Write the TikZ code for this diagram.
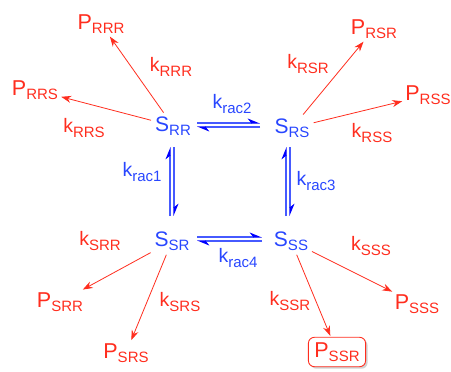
\documentclass[tikz,border=0pt]{standalone}
\usepackage{fontspec}
\setmainfont{Liberation Sans}
\usetikzlibrary{arrows.meta,shadows}
\definecolor{rd}{RGB}{255,45,30}
\definecolor{bl}{RGB}{40,70,255}
\definecolor{blA}{RGB}{0,0,255}
\definecolor{blL}{RGB}{70,90,255}
\newcommand\lab[2]{#1\raisebox{-4.5pt}{\fontsize{15}{17}\selectfont #2}}
\tikzset{
  sp/.style={text=bl,font=\fontsize{21}{24}\selectfont,inner sep=2pt},
  pr/.style={text=rd,font=\fontsize{21.5}{24}\selectfont,inner sep=2pt},
  kr/.style={text=rd,font=\fontsize{19.5}{22}\selectfont,inner sep=1pt},
  kb/.style={text=bl,font=\fontsize{19.5}{22}\selectfont,inner sep=1pt},
  ra/.style={draw=rd,line width=0.8pt,-{Stealth[length=10pt,width=7pt]},shorten <=2pt,shorten >=1pt},
  eq/.style={draw=blL,line width=1.1pt},
  hp/.style={-{Stealth[harpoon,length=11pt,width=9pt,blA]}},
}
\begin{document}
\begin{tikzpicture}[x=1pt,y=-1pt]
\useasboundingbox (0,0) rectangle (451,372);
\node[sp] (srr) at (173,126) {\lab{S}{RR}};
\node[sp] (srs) at (292,128) {\lab{S}{RS}};
\node[sp] (ssr) at (172,241) {\lab{S}{SR}};
\node[sp] (sss) at (291,241) {\lab{S}{SS}};
\node[kb] (k2) at (232,104) {\lab{k}{rac2}};
\node[kb] (k1) at (142,172) {\lab{k}{rac1}};
\node[kb] (k3) at (316,181) {\lab{k}{rac3}};
\node[kb] (k4) at (238,258) {\lab{k}{rac4}};
% products
\node[pr] (prrr) at (101,24) {\lab{P}{RRR}};
\node[pr] (prrs) at (35,90) {\lab{P}{RRS}};
\node[pr] (prsr) at (374,29) {\lab{P}{RSR}};
\node[pr] (prss) at (428,95) {\lab{P}{RSS}};
\node[pr] (psrr) at (60,302) {\lab{P}{SRR}};
\node[pr] (psrs) at (126,353) {\lab{P}{SRS}};
\node[pr] (psss) at (417,304) {\lab{P}{SSS}};
\node[pr,draw=rd,line width=0.9pt,rounded corners=6pt,inner xsep=6pt,inner ysep=5pt,fill=white,
  drop shadow={shadow xshift=2pt,shadow yshift=-2pt,fill=black!35}] (pssr) at (337,352) {\lab{P}{SSR}};
% rate labels
\node[kr] at (171,67) {\lab{k}{RRR}};
\node[kr] at (84,128) {\lab{k}{RRS}};
\node[kr] at (308,64) {\lab{k}{RSR}};
\node[kr] at (372,133) {\lab{k}{RSS}};
\node[kr] at (100,241) {\lab{k}{SRR}};
\node[kr] at (180,302) {\lab{k}{SRS}};
\node[kr] at (371,246) {\lab{k}{SSS}};
\node[kr] at (290,301) {\lab{k}{SSR}};
% red arrows
\draw[ra] (srr) -- (prrr);
\draw[ra] (srr) -- (prrs);
\draw[ra] (srs) -- (prsr);
\draw[ra] (srs) -- (prss);
\draw[ra] (ssr) -- (psrr);
\draw[ra] (ssr) -- (psrs);
\draw[ra] (sss) -- (psss);
\draw[ra] (sss) -- (pssr);
% equilibria
\coordinate (a1) at (197,123); \coordinate (a2) at (260,123);
\coordinate (b1) at (197,127); \coordinate (b2) at (260,127);
\draw[eq,hp] (a1) -- (a2);
\draw[eq,hp] (b2) -- (b1);
\coordinate (c1) at (197,237); \coordinate (c2) at (262,237);
\coordinate (d1) at (197,241); \coordinate (d2) at (262,241);
\draw[eq,hp] (c1) -- (c2);
\draw[eq,hp] (d2) -- (d1);
\coordinate (e1) at (170,147); \coordinate (e2) at (170,216);
\coordinate (f1) at (174,147); \coordinate (f2) at (174,216);
\draw[eq,hp] (e2) -- (e1);
\draw[eq,hp] (f1) -- (f2);
\coordinate (g1) at (286,147); \coordinate (g2) at (286,216);
\coordinate (h1) at (290,147); \coordinate (h2) at (290,216);
\draw[eq,hp] (g2) -- (g1);
\draw[eq,hp] (h1) -- (h2);
\end{tikzpicture}
\end{document}
